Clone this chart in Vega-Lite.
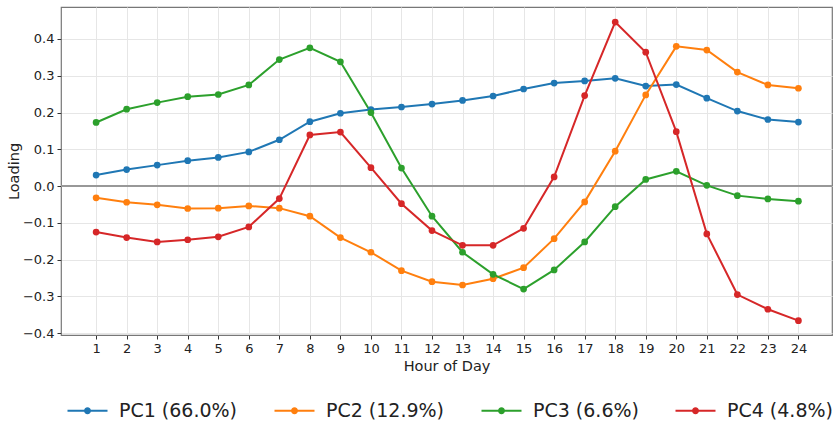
{
  "$schema": "https://vega.github.io/schema/vega-lite/v6.json",
  "width": 771,
  "height": 328,
  "autosize": {"type": "none"},
  "padding": {"left": 61, "top": 7, "right": 8, "bottom": 90},
  "background": "white",
  "config": {
    "font": "DejaVu Sans",
    "view": {"stroke": "#777777", "strokeWidth": 1.2},
    "axis": {"labelFont": "DejaVu Sans", "titleFont": "DejaVu Sans", "labelColor": "#222", "titleColor": "#222", "titleFontWeight": "normal", "labelFontSize": 13, "titleFontSize": 14.5, "tickColor": "#333", "tickSize": 4, "domain": false, "gridColor": "#e6e6e6", "gridWidth": 1}
  },
  "data": {"values": [
    {"hour":1,"pc":"PC1 (66.0%)","v":0.030},{"hour":2,"pc":"PC1 (66.0%)","v":0.045},{"hour":3,"pc":"PC1 (66.0%)","v":0.057},{"hour":4,"pc":"PC1 (66.0%)","v":0.069},{"hour":5,"pc":"PC1 (66.0%)","v":0.078},{"hour":6,"pc":"PC1 (66.0%)","v":0.093},{"hour":7,"pc":"PC1 (66.0%)","v":0.126},{"hour":8,"pc":"PC1 (66.0%)","v":0.175},{"hour":9,"pc":"PC1 (66.0%)","v":0.198},{"hour":10,"pc":"PC1 (66.0%)","v":0.208},{"hour":11,"pc":"PC1 (66.0%)","v":0.215},{"hour":12,"pc":"PC1 (66.0%)","v":0.223},{"hour":13,"pc":"PC1 (66.0%)","v":0.233},{"hour":14,"pc":"PC1 (66.0%)","v":0.245},{"hour":15,"pc":"PC1 (66.0%)","v":0.264},{"hour":16,"pc":"PC1 (66.0%)","v":0.280},{"hour":17,"pc":"PC1 (66.0%)","v":0.286},{"hour":18,"pc":"PC1 (66.0%)","v":0.293},{"hour":19,"pc":"PC1 (66.0%)","v":0.272},{"hour":20,"pc":"PC1 (66.0%)","v":0.276},{"hour":21,"pc":"PC1 (66.0%)","v":0.239},{"hour":22,"pc":"PC1 (66.0%)","v":0.204},{"hour":23,"pc":"PC1 (66.0%)","v":0.181},{"hour":24,"pc":"PC1 (66.0%)","v":0.174},
    {"hour":1,"pc":"PC2 (12.9%)","v":-0.032},{"hour":2,"pc":"PC2 (12.9%)","v":-0.044},{"hour":3,"pc":"PC2 (12.9%)","v":-0.051},{"hour":4,"pc":"PC2 (12.9%)","v":-0.061},{"hour":5,"pc":"PC2 (12.9%)","v":-0.060},{"hour":6,"pc":"PC2 (12.9%)","v":-0.054},{"hour":7,"pc":"PC2 (12.9%)","v":-0.060},{"hour":8,"pc":"PC2 (12.9%)","v":-0.082},{"hour":9,"pc":"PC2 (12.9%)","v":-0.140},{"hour":10,"pc":"PC2 (12.9%)","v":-0.180},{"hour":11,"pc":"PC2 (12.9%)","v":-0.230},{"hour":12,"pc":"PC2 (12.9%)","v":-0.260},{"hour":13,"pc":"PC2 (12.9%)","v":-0.269},{"hour":14,"pc":"PC2 (12.9%)","v":-0.252},{"hour":15,"pc":"PC2 (12.9%)","v":-0.222},{"hour":16,"pc":"PC2 (12.9%)","v":-0.143},{"hour":17,"pc":"PC2 (12.9%)","v":-0.043},{"hour":18,"pc":"PC2 (12.9%)","v":0.095},{"hour":19,"pc":"PC2 (12.9%)","v":0.248},{"hour":20,"pc":"PC2 (12.9%)","v":0.380},{"hour":21,"pc":"PC2 (12.9%)","v":0.370},{"hour":22,"pc":"PC2 (12.9%)","v":0.310},{"hour":23,"pc":"PC2 (12.9%)","v":0.275},{"hour":24,"pc":"PC2 (12.9%)","v":0.266},
    {"hour":1,"pc":"PC3 (6.6%)","v":0.173},{"hour":2,"pc":"PC3 (6.6%)","v":0.209},{"hour":3,"pc":"PC3 (6.6%)","v":0.227},{"hour":4,"pc":"PC3 (6.6%)","v":0.243},{"hour":5,"pc":"PC3 (6.6%)","v":0.249},{"hour":6,"pc":"PC3 (6.6%)","v":0.275},{"hour":7,"pc":"PC3 (6.6%)","v":0.344},{"hour":8,"pc":"PC3 (6.6%)","v":0.376},{"hour":9,"pc":"PC3 (6.6%)","v":0.338},{"hour":10,"pc":"PC3 (6.6%)","v":0.200},{"hour":11,"pc":"PC3 (6.6%)","v":0.049},{"hour":12,"pc":"PC3 (6.6%)","v":-0.082},{"hour":13,"pc":"PC3 (6.6%)","v":-0.180},{"hour":14,"pc":"PC3 (6.6%)","v":-0.240},{"hour":15,"pc":"PC3 (6.6%)","v":-0.280},{"hour":16,"pc":"PC3 (6.6%)","v":-0.228},{"hour":17,"pc":"PC3 (6.6%)","v":-0.152},{"hour":18,"pc":"PC3 (6.6%)","v":-0.056},{"hour":19,"pc":"PC3 (6.6%)","v":0.018},{"hour":20,"pc":"PC3 (6.6%)","v":0.040},{"hour":21,"pc":"PC3 (6.6%)","v":0.002},{"hour":22,"pc":"PC3 (6.6%)","v":-0.026},{"hour":23,"pc":"PC3 (6.6%)","v":-0.035},{"hour":24,"pc":"PC3 (6.6%)","v":-0.041},
    {"hour":1,"pc":"PC4 (4.8%)","v":-0.125},{"hour":2,"pc":"PC4 (4.8%)","v":-0.140},{"hour":3,"pc":"PC4 (4.8%)","v":-0.152},{"hour":4,"pc":"PC4 (4.8%)","v":-0.146},{"hour":5,"pc":"PC4 (4.8%)","v":-0.138},{"hour":6,"pc":"PC4 (4.8%)","v":-0.111},{"hour":7,"pc":"PC4 (4.8%)","v":-0.034},{"hour":8,"pc":"PC4 (4.8%)","v":0.139},{"hour":9,"pc":"PC4 (4.8%)","v":0.147},{"hour":10,"pc":"PC4 (4.8%)","v":0.050},{"hour":11,"pc":"PC4 (4.8%)","v":-0.048},{"hour":12,"pc":"PC4 (4.8%)","v":-0.121},{"hour":13,"pc":"PC4 (4.8%)","v":-0.161},{"hour":14,"pc":"PC4 (4.8%)","v":-0.161},{"hour":15,"pc":"PC4 (4.8%)","v":-0.115},{"hour":16,"pc":"PC4 (4.8%)","v":0.025},{"hour":17,"pc":"PC4 (4.8%)","v":0.246},{"hour":18,"pc":"PC4 (4.8%)","v":0.446},{"hour":19,"pc":"PC4 (4.8%)","v":0.364},{"hour":20,"pc":"PC4 (4.8%)","v":0.148},{"hour":21,"pc":"PC4 (4.8%)","v":-0.130},{"hour":22,"pc":"PC4 (4.8%)","v":-0.295},{"hour":23,"pc":"PC4 (4.8%)","v":-0.335},{"hour":24,"pc":"PC4 (4.8%)","v":-0.366}
  ]},
  "layer": [
    {
      "mark": {"type": "rule", "color": "#999999", "strokeWidth": 1},
      "encoding": {"y": {"datum": 0, "type": "quantitative", "scale": {"domain": [-0.405, 0.487], "nice": false, "zero": false}}}
    },
    {
      "mark": {"type": "line", "strokeWidth": 2, "point": {"filled": true, "size": 45}},
      "encoding": {
        "x": {"field": "hour", "type": "quantitative", "scale": {"domain": [-0.15, 25.1], "nice": false, "zero": false},
              "axis": {"title": "Hour of Day", "values": [1,2,3,4,5,6,7,8,9,10,11,12,13,14,15,16,17,18,19,20,21,22,23,24], "labelPadding": 3, "titlePadding": 4, "grid": true}},
        "y": {"field": "v", "type": "quantitative", "scale": {"domain": [-0.405, 0.487], "nice": false, "zero": false},
              "axis": {"title": "Loading", "values": [-0.4,-0.3,-0.2,-0.1,0,0.1,0.2,0.3,0.4], "labelExpr": "replace(format(datum.value, '.1f'), '-', '\u2212')", "labelPadding": 3, "titlePadding": 1, "grid": true}},
        "color": {"field": "pc", "type": "nominal",
                  "scale": {"domain": ["PC1 (66.0%)", "PC2 (12.9%)", "PC3 (6.6%)", "PC4 (4.8%)"], "range": ["#1f77b4", "#ff7f0e", "#2ca02c", "#d62728"]},
                  "legend": {"title": null, "orient": "none", "legendX": 5, "legendY": 382, "direction": "horizontal",
                             "labelFontSize": 19, "labelFont": "DejaVu Sans", "labelColor": "#222", "labelOffset": 10,
                             "symbolType": "M-1,0H1M-0.12,0A0.12,0.12,0,1,1,0.12,0A0.12,0.12,0,1,1,-0.12,0",
                             "symbolSize": 1600, "symbolStrokeWidth": 2.2, "columnPadding": 32, "labelLimit": 300}}
      }
    }
  ]
}
